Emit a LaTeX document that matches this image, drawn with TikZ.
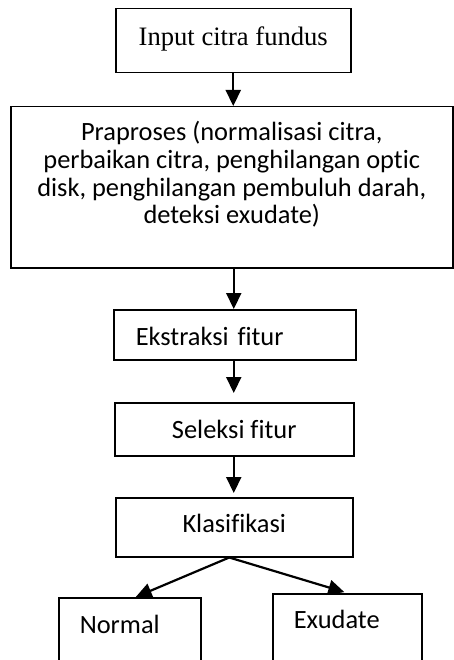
\documentclass[tikz,border=0pt]{standalone}
\usepackage{fontspec}
\setmainfont{Liberation Serif}
\newfontfamily\calibrifont[Ligatures=NoCommon]{Carlito}
\usetikzlibrary{arrows.meta,positioning}

\begin{document}
\begin{tikzpicture}[x=1pt, y=-1pt, >={Triangle[length=16pt,width=15pt]},
    procbox/.style={draw, line width=1.5pt, inner ysep=0pt, anchor=north west},
    leftbox/.style={procbox, align=left, inner xsep=21pt},
    midbox/.style={procbox, align=center, inner xsep=0pt},
    calfont/.style={font=\calibrifont\fontsize{26.4}{27.7}\selectfont},
    flow/.style={->, line width=2.2pt}]
    % Canvas
    \clip (0,0) rectangle (454,660);
    \fill[white] (0,0) rectangle (454,660);

    % Boxes
    \node[midbox, minimum width=235pt, text height=37pt, text depth=27pt,
          font=\fontsize{26.6}{30}\selectfont] (input) at (115,8) {Input citra fundus};
    \node[midbox, calfont, minimum width=442pt, text height=117pt, text depth=44pt] (prep) at (10,106)
        {Praproses (normalisasi citra,\\ perbaikan citra, penghilangan optic\\ disk, penghilangan pembuluh darah,\\ deteksi exudate)};
    \node[leftbox, calfont, inner xsep=22pt, text width=198pt, text height=36pt, text depth=14pt] (ekstr) at (113,309) {Ekstraksi fitur};
    \node[midbox, calfont, minimum width=239pt, text height=36pt, text depth=17pt] (seleksi) at (114,402) {Seleksi fitur};
    \node[midbox, calfont, minimum width=237pt, text height=35pt, text depth=24pt] (klas) at (115,497) {Klasifikasi};
    \node[leftbox, calfont, text width=100pt, text height=36pt, text depth=60pt] (normal) at (58,597) {Normal};
    \node[leftbox, calfont, text width=107pt, text height=35pt, text depth=60pt] (exudate) at (272,593) {Exudate};

    % Connectors
    \draw[flow] (input.south) -- (input.south |- prep.north);
    \draw[flow] ([xshift=-1pt]ekstr.north |- prep.south) -- ([xshift=-1pt]ekstr.north);
    \draw[flow, shorten >=9pt] ([xshift=-1pt]ekstr.south) -- ([xshift=-1pt]ekstr.south |- seleksi.north);
    \draw[flow, shorten >=4pt] ([xshift=-1pt]ekstr.south |- seleksi.south) -- ([xshift=-1pt]ekstr.south |- klas.north);
    \draw[flow] ([xshift=-5pt]klas.south) -- ([xshift=6pt]normal.north);
    \draw[flow, shorten >=3pt] ([xshift=-5pt]klas.south) -- (exudate.north);
\end{tikzpicture}
\end{document}
